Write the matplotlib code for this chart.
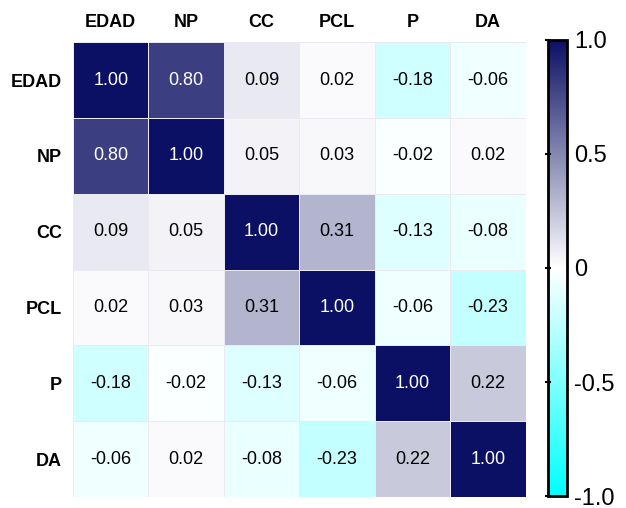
import numpy as np
import matplotlib.pyplot as plt
from matplotlib.colors import LinearSegmentedColormap

plt.rcParams['font.family'] = ['Liberation Sans', 'DejaVu Sans']

labels = ['EDAD', 'NP', 'CC', 'PCL', 'P', 'DA']
corr = np.array([
    [1.00, 0.80, 0.09, 0.02, -0.18, -0.06],
    [0.80, 1.00, 0.05, 0.03, -0.02, 0.02],
    [0.09, 0.05, 1.00, 0.31, -0.13, -0.08],
    [0.02, 0.03, 0.31, 1.00, -0.06, -0.23],
    [-0.18, -0.02, -0.13, -0.06, 1.00, 0.22],
    [-0.06, 0.02, -0.08, -0.23, 0.22, 1.00],
])
cbar_ticks = [-1.0, -0.5, 0, 0.5, 1.0]
cbar_ticklabels = ['-1.0', '-0.5', '0', '0.5', '1.0']

cmap = LinearSegmentedColormap.from_list(
    'cyan_navy', ['#00ffff', '#ffffff', '#0b1064'])

fig = plt.figure(figsize=(6.26, 5.08), dpi=100)
ax = fig.add_axes([0.1166, 0.0217, 0.7234, 0.8953])
cax = fig.add_axes([0.8755, 0.0236, 0.0300, 0.8977])

n = len(labels)
mesh = ax.pcolormesh(corr, cmap=cmap, vmin=-1, vmax=1,
                     edgecolor='#ebe9f2', linewidth=0.4)
ax.set_xlim(0, n)
ax.set_ylim(n, 0)
for i in range(n):
    for j in range(n):
        v = corr[i, j]
        ax.text(j + 0.5, i + 0.5, f'{v:.2f}', ha='center', va='center',
                fontsize=13, color='white' if v > 0.6 else 'black')

ax.set_xticks(np.arange(n) + 0.5)
ax.set_yticks(np.arange(n) + 0.5)
ax.set_xticklabels(labels, fontsize=13, fontweight='bold')
ax.set_yticklabels(labels, fontsize=13, fontweight='bold')
ax.xaxis.tick_top()
ax.tick_params(length=0, pad=8)
for s in ax.spines.values():
    s.set_visible(False)

cb = fig.colorbar(mesh, cax=cax)
cb.set_ticks(cbar_ticks)
cb.set_ticklabels(cbar_ticklabels)
cb.outline.set_linewidth(2)
cax.tick_params(left=True, right=False, labelleft=False, labelright=True,
                direction='inout', length=5, width=1.5, labelsize=17, pad=3)

fig.savefig('out.png', dpi=100)
